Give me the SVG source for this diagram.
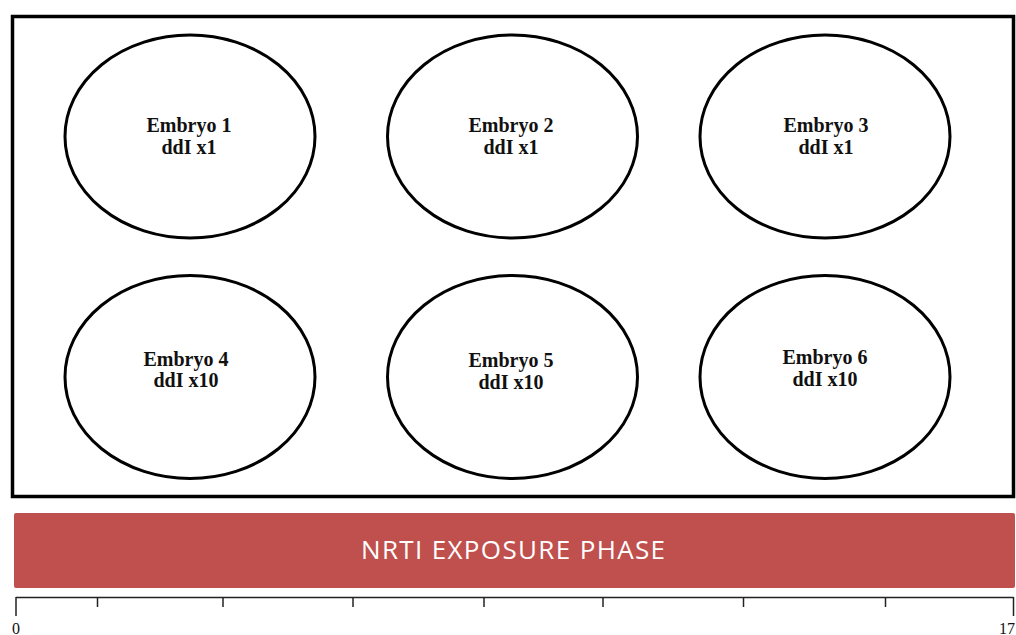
<svg xmlns="http://www.w3.org/2000/svg" width="1016" height="635" viewBox="0 0 1016 635">
  <style>
    .frame { fill: none; stroke: #000; stroke-width: 3.5; }
    .embryo ellipse { fill: #fff; stroke: #000; stroke-width: 3; }
    .embryo text { font-family: "Liberation Serif", "Times New Roman", serif; font-weight: bold; font-size: 20px; fill: #111; text-anchor: middle; }
    .phase { fill: #C0504D; }
    .phase-label { font-family: "Open Sans", "Liberation Sans", sans-serif; font-size: 26px; fill: #fff; text-anchor: middle; }
    .axis line { stroke: #222; stroke-width: 1.5; }
    .tick-label { font-family: "Liberation Serif", serif; font-size: 16px; fill: #111; }
  </style>
  <rect width="1016" height="635" fill="#fff"/>

  <!-- plate outline -->
  <rect class="frame" x="12.5" y="16.5" width="1001" height="480"/>

  <!-- wells -->
  <g id="embryo1" class="embryo">
    <ellipse cx="190" cy="136.5" rx="125" ry="101.5"/>
    <text x="189" y="132">Embryo 1</text>
    <text x="189" y="154">ddI x1</text>
  </g>
  <g id="embryo2" class="embryo">
    <ellipse cx="512.5" cy="136.5" rx="125" ry="101.5"/>
    <text x="511" y="132">Embryo 2</text>
    <text x="511" y="154">ddI x1</text>
  </g>
  <g id="embryo3" class="embryo">
    <ellipse cx="825" cy="136.5" rx="125" ry="101.5"/>
    <text x="826" y="132">Embryo 3</text>
    <text x="826" y="154">ddI x1</text>
  </g>
  <g id="embryo4" class="embryo">
    <ellipse cx="190" cy="377" rx="125" ry="101.5"/>
    <text x="186" y="366">Embryo 4</text>
    <text x="186" y="387">ddI x10</text>
  </g>
  <g id="embryo5" class="embryo">
    <ellipse cx="512.5" cy="377" rx="125" ry="101.5"/>
    <text x="511" y="367">Embryo 5</text>
    <text x="511" y="389">ddI x10</text>
  </g>
  <g id="embryo6" class="embryo">
    <ellipse cx="825" cy="377" rx="125" ry="101.5"/>
    <text x="825" y="364">Embryo 6</text>
    <text x="825" y="386">ddI x10</text>
  </g>

  <!-- exposure phase bar -->
  <g id="phase">
    <rect class="phase" x="14" y="513" width="1001" height="75" rx="2"/>
    <text class="phase-label" x="513" y="559" textLength="304" lengthAdjust="spacing">NRTI EXPOSURE PHASE</text>
  </g>

  <!-- time axis -->
  <g id="axis" class="axis">
    <line x1="16" y1="597.5" x2="1013.5" y2="597.5"/>
    <line x1="16" y1="597" x2="16" y2="616"/>
    <line x1="1013.5" y1="597" x2="1013.5" y2="616"/>
    <line x1="97.5" y1="597" x2="97.5" y2="607"/>
    <line x1="223" y1="597" x2="223" y2="607"/>
    <line x1="353" y1="597" x2="353" y2="607"/>
    <line x1="484" y1="597" x2="484" y2="607"/>
    <line x1="603" y1="597" x2="603" y2="607"/>
    <line x1="743.5" y1="597" x2="743.5" y2="607"/>
    <line x1="885.5" y1="597" x2="885.5" y2="607"/>
    <text class="tick-label" x="12" y="634">0</text>
    <text class="tick-label" x="999" y="634">17</text>
  </g>
</svg>
